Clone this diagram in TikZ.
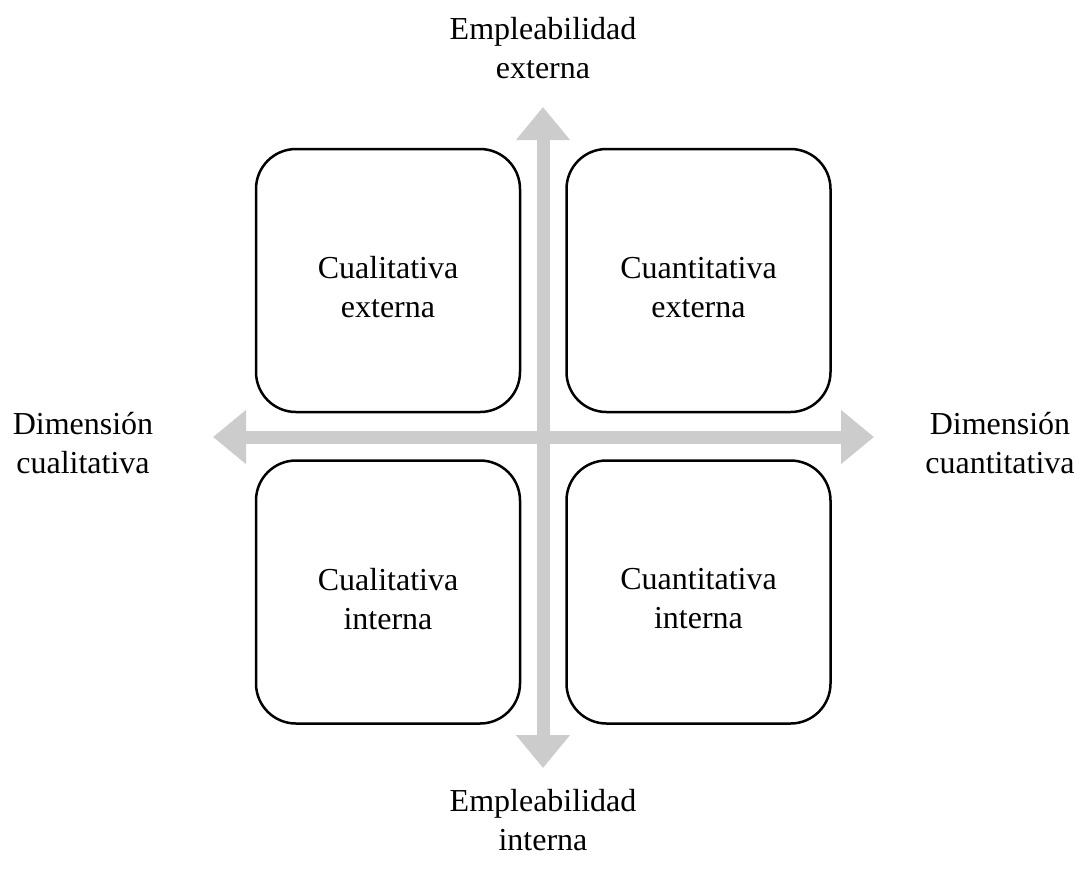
\documentclass[tikz,border=0pt]{standalone}
\usepackage{fontspec}
\setmainfont{Liberation Serif}
\usetikzlibrary{arrows.meta, positioning}
\begin{document}
\begin{tikzpicture}[x=0.5pt, y=-0.5pt, every node/.style={outer sep=0pt, align=center, font=\fontsize{16}{19.5}\selectfont}]
\tikzstyle{quad}=[draw, line width=1.25pt, rounded corners=20pt, minimum width=132pt, minimum height=131.5pt]
\tikzstyle{quadtext}=[yshift=-3.5pt]
\tikzstyle{axis}=[draw=gray!40, line width=6.5pt, {Triangle[width=26pt,length=16.5pt]}-{Triangle[width=26pt,length=16.5pt]}]

\useasboundingbox (0,0) rectangle (1080,875);

\node (CE) [quad, label={[quadtext]center:Cualitativa\\externa}] at (388,280.5) {};
\node (QE) [quad, label={[quadtext]center:Cuantitativa\\externa}] at (698.5,280.5) {};
\node (CI) [quad, label={[quadtext]center:Cualitativa\\interna}] at (388,592) {};
\node (QI) [quad, label={[quadtext]center:Cuantitativa\\interna}] at (698.5,592) {};

\coordinate (up) at (543,107);
\coordinate (down) at (543,768);
\coordinate (left) at (213,437);
\coordinate (right) at (874,437);

\draw [axis] (down) -- (up);
\draw [axis] (left) -- (right);

\node (ext) at (543,48) {Empleabilidad\\externa};
\node (int) at (543,820) {Empleabilidad\\interna};
\node (cual) at (83,443) {Dimensión\\cualitativa};
\node (cuan) at (1000,443) {Dimensión\\cuantitativa};
\end{tikzpicture}
\end{document}
